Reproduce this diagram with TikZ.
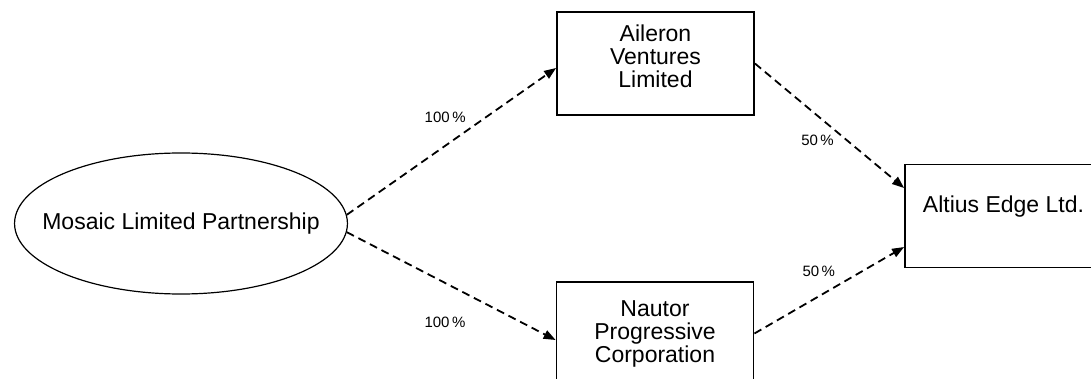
\documentclass[tikz,border=0pt]{standalone}
\usepackage{fontspec}
\setmainfont{Liberation Sans}
\usetikzlibrary{shapes.geometric,arrows.meta}

\begin{document}
\begin{tikzpicture}[x=0.5pt,y=-0.5pt]
    \useasboundingbox (0,0) rectangle (1091,379);

        \begin{scope}[every node/.style={draw,align=center,inner sep=0pt,font=\fontsize{11.5}{11.5}\selectfont}]
            \node[ellipse,line width=0.6pt,inner xsep=-10.5pt,minimum width=166pt,minimum height=70.5pt] (mosaic) at (181,223.5) {Mosaic Limited Partnership};
            \node[rectangle,line width=0.9pt,minimum width=98.5pt,minimum height=51.5pt] (aileron) at (655.5,63.5) {Aileron\\Ventures\\Limited\\[-4pt]\mbox{}};
            \node[rectangle,line width=0.9pt,minimum width=98.5pt,minimum height=51.5pt] (nautor) at (655,333.5) {Nautor\\Progressive\\Corporation};
            \node[rectangle,line width=0.9pt,minimum width=98.5pt,minimum height=51.5pt] (altius) at (1003.5,216) {Altius Edge Ltd.\\\mbox{}};
        \end{scope}

        \begin{scope}[every node/.style={font=\fontsize{7.5}{9}\selectfont}, every edge/.style={draw,dash pattern=on 4pt off 2.5pt,line width=0.9pt}]
            \path [-{Triangle[length=6pt,width=4.5pt]}] (mosaic.3) edge node[pos=0.47,yshift=14pt] {100\,\%} ([yshift=-2.25pt]aileron.west);
            \path [-{Triangle[length=6pt,width=4.5pt]}] (mosaic.-3) edge node[pos=0.47,yshift=-19.5pt] {100\,\%} ([yshift=-3.25pt]nautor.west);
            \path [-{Triangle[length=6pt,width=4.5pt]}] (aileron.east) edge node[pos=0.42,yshift=-12.5pt] {50\,\%} ([yshift=14pt]altius.west);
            \path [-{Triangle[length=6pt,width=4.5pt]}] (nautor.east) edge node[pos=0.43,yshift=12.25pt] {50\,\%} ([yshift=-15.5pt]altius.west);
        \end{scope}

    \end{tikzpicture}
\end{document}
